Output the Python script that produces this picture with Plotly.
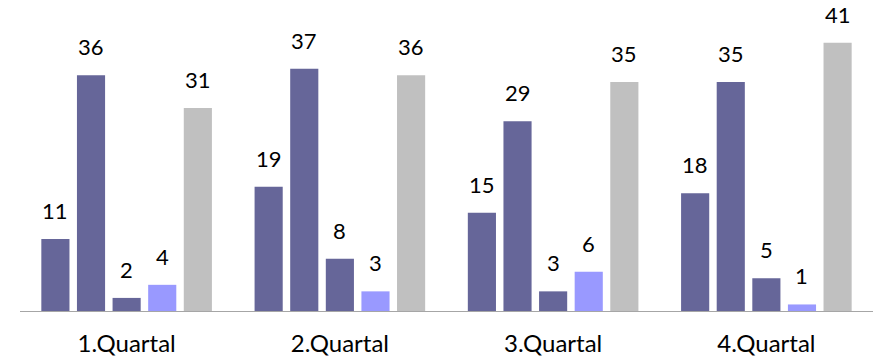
import plotly.graph_objects as go

quarters = ["1.Quartal", "2.Quartal", "3.Quartal", "4.Quartal"]
series_names = ["Reihe 1", "Reihe 2", "Reihe 3", "Reihe 4", "Reihe 5"]
series_values = [
    [11, 19, 15, 18],
    [36, 37, 29, 35],
    [2, 8, 3, 5],
    [4, 3, 6, 1],
    [31, 36, 35, 41],
]
series_colors = ["#666699", "#666699", "#666699", "#9999FF", "#C0C0C0"]

BARGAP = 0.165
BARGROUPGAP = 0.21
FONT = "Lato"

fig = go.Figure()
for name, vals, col in zip(series_names, series_values, series_colors):
    fig.add_trace(go.Bar(x=quarters, y=vals, name=name, marker_color=col,
                         marker_line_width=0))

# value labels above each bar, placed at the centre of its slot in the group
n = len(series_values)
slot = (1 - BARGAP) / n
for i, vals in enumerate(series_values):
    for gi, v in enumerate(vals):
        fig.add_annotation(x=gi + (i - (n - 1) / 2) * slot, y=v, xref="x", yref="y",
                           text=str(v), showarrow=False, yanchor="bottom",
                           yshift=13, font=dict(family=FONT, size=22, color="#000000"))

fig.update_layout(
    width=877, height=361,
    margin=dict(l=20, r=4, t=23, b=50),
    barmode="group", bargap=BARGAP, bargroupgap=BARGROUPGAP,
    plot_bgcolor="white", paper_bgcolor="white",
    showlegend=False,
    xaxis=dict(showline=True, linecolor="#A6A6A6", linewidth=1, ticks="",
               tickfont=dict(family=FONT, size=24, color="#000000"),
               ticklabelstandoff=11),
    yaxis=dict(range=[0, 44], visible=False, showgrid=False),
)

fig.write_html("out.html")
